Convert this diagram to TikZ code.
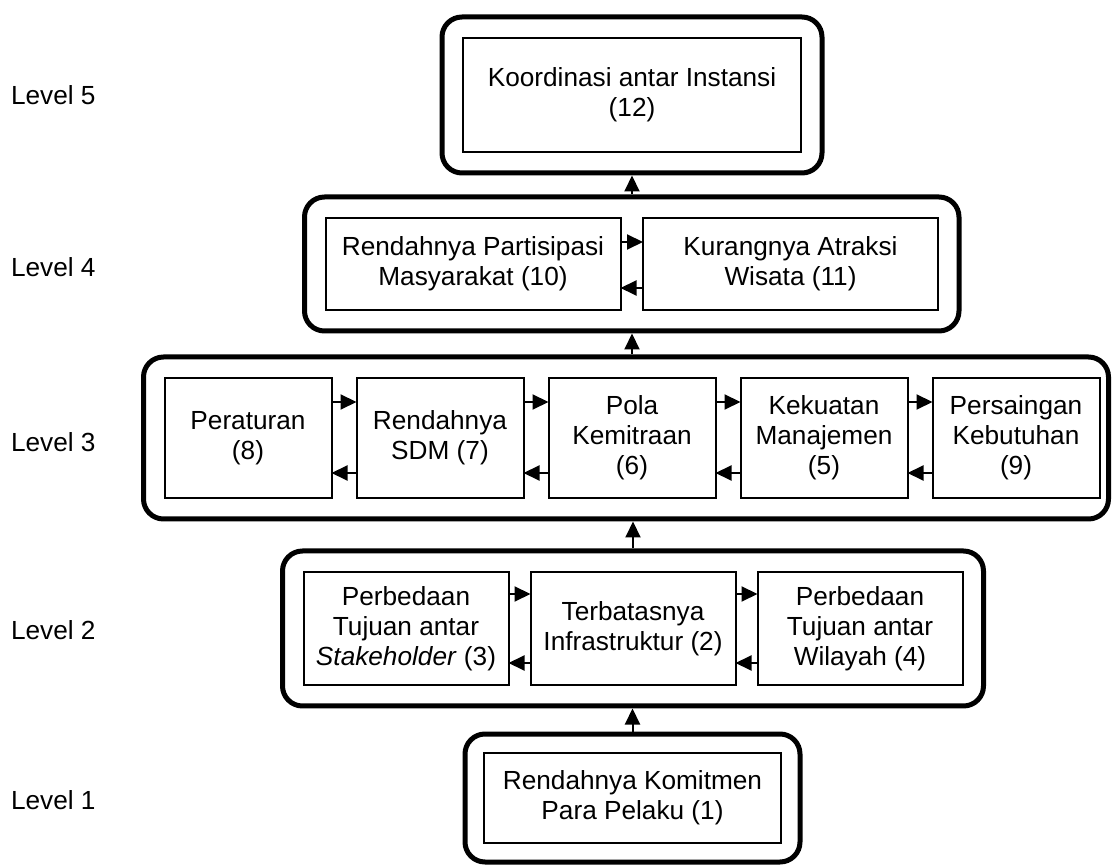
\documentclass[tikz,border=0pt]{standalone}
\usepackage{fontspec}
\setmainfont{Liberation Sans}
\usetikzlibrary{positioning, calc, fit, arrows.meta}

\begin{document}
\begin{tikzpicture}[x=0.5pt, y=-0.5pt,
	every node/.style={font=\fontsize{13.1pt}{15pt}\selectfont},
	box/.style={draw, line width=1pt, align=center, inner sep=2pt, outer sep=0pt},
	lvfive/.style={box, minimum width=169pt, minimum height=57pt},
	lvfour/.style={box, minimum width=147.5pt, minimum height=46pt},
	lvthree/.style={box, minimum width=83.5pt, minimum height=60pt},
	lvtwo/.style={box, minimum width=102.5pt, minimum height=56.5pt},
	lvone/.style={box, minimum width=148.5pt, minimum height=45pt},
	frame/.style={draw, line width=2.5pt, rounded corners=10pt, inner sep=10.5pt},
	arr/.style={-{Triangle[length=8pt,width=7.5pt]}, line width=1pt},
	lvl/.style={anchor=west}]
	\useasboundingbox (0,0) rectangle (1114,865);

	% level labels
	\node[lvl] (lab5) at (4,95) {Level 5};
	\node[lvl] (lab4) at (4,267) {Level 4};
	\node[lvl] (lab3) at (4,442) {Level 3};
	\node[lvl] (lab2) at (4,630) {Level 2};
	\node[lvl] (lab1) at (4,800) {Level 1};

	% level 5
	\node[lvfive] (koord) at (632,95) {Koordinasi antar Instansi\\(12)};
	\node[frame, fit=(koord)] (lv5) {};

	% level 4
	\node[lvfour] (partisipasi) at (473,264) {Rendahnya Partisipasi\\Masyarakat (10)};
	\node[lvfour, right=11.25pt of partisipasi] (atraksi) {Kurangnya Atraksi\\Wisata (11)};
	\node[frame, fit=(partisipasi)(atraksi)] (lv4) {};
	\draw[arr] ([yshift=-12pt]partisipasi.north east) -- ([yshift=-12pt]atraksi.north west);
	\draw[arr] ([yshift=11pt]atraksi.south west) -- ([yshift=11pt]partisipasi.south east);

	% level 3
	\node[lvthree] (pola) at (632,438) {Pola\\Kemitraan\\(6)};
	\node[lvthree, left=12.5pt of pola] (sdm) {Rendahnya\\SDM (7)};
	\node[lvthree, left=12.5pt of sdm] (aturan) {Peraturan\\(8)};
	\node[lvthree, right=12.5pt of pola] (manajemen) {Kekuatan\\Manajemen\\(5)};
	\node[lvthree, right=12.5pt of manajemen] (saing) {Persaingan\\Kebutuhan\\(9)};
	\coordinate (l3end) at ($(saing.south east)+(-12,0)$);
	\node[frame, fit=(aturan)(l3end)] (lv3) {};
	\foreach \a/\b in {aturan/sdm, sdm/pola, pola/manajemen, manajemen/saing}{
		\draw[arr] ([yshift=-12pt]\a.north east) -- ([yshift=-12pt]\b.north west);
		\draw[arr] ([yshift=12.5pt]\b.south west) -- ([yshift=12.5pt]\a.south east);
	}

	% level 2
	\node[lvtwo] (infra) at (633,628.5) {Terbatasnya\\Infrastruktur (2)};
	\node[lvtwo, left=11pt of infra] (stake) {Perbedaan\\Tujuan antar\\\textit{Stakeholder} (3)};
	\node[lvtwo, right=11pt of infra] (wilayah) {Perbedaan\\Tujuan antar\\Wilayah (4)};
	\node[frame, fit=(stake)(wilayah)] (lv2) {};
	\foreach \a/\b in {stake/infra, infra/wilayah}{
		\draw[arr] ([yshift=-11pt]\a.north east) -- ([yshift=-11pt]\b.north west);
		\draw[arr] ([yshift=11pt]\b.south west) -- ([yshift=11pt]\a.south east);
	}

	% level 1
	\node[lvone] (komitmen) at (632.5,798) {Rendahnya Komitmen\\Para Pelaku (1)};
	\node[frame, inner sep=9.5pt, fit=(komitmen)] (lv1) {};

	% between levels
	\draw[arr] (lv1.north) -- (lv2.south -| lv1.north);
	\draw[arr] (lv2.north -| infra) -- (lv3.south -| infra);
	\draw[arr] (lv3.north -| pola) -- (lv4.south -| pola);
	\draw[arr] (lv4.north -| koord) -- (lv5.south);
\end{tikzpicture}
\end{document}
